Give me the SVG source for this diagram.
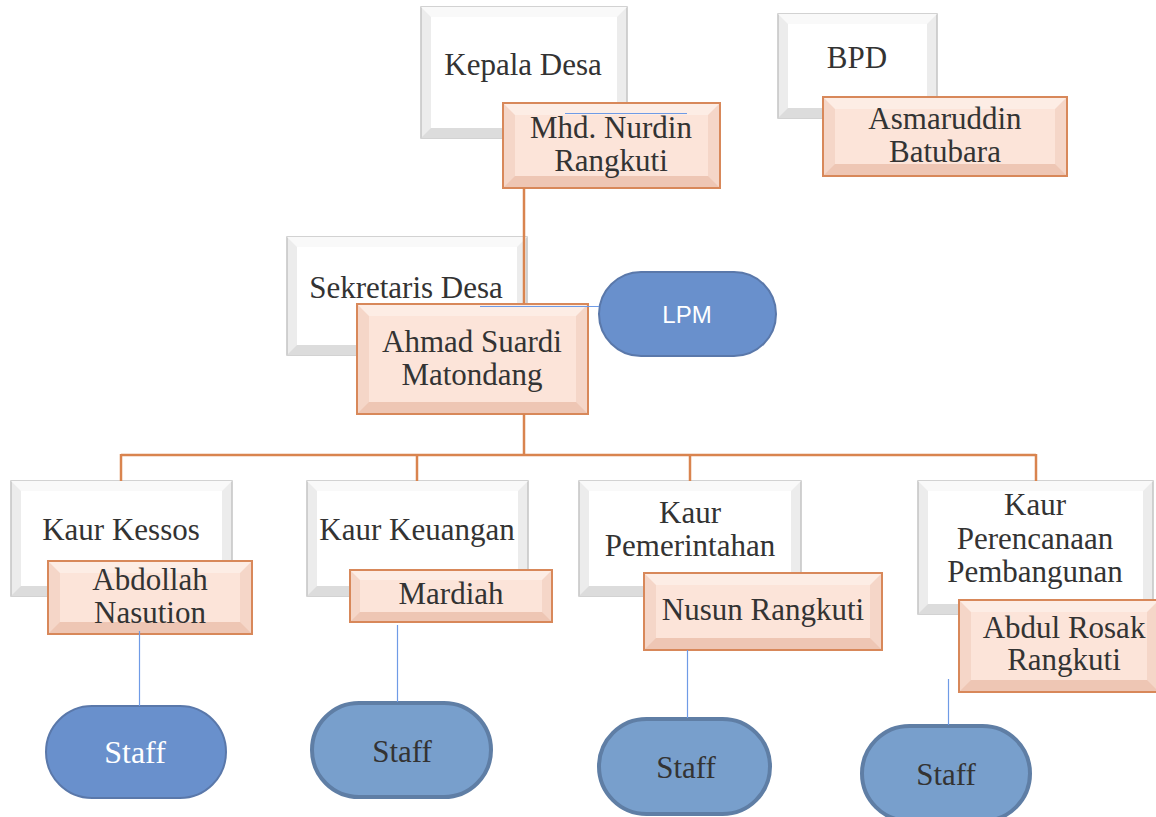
<svg xmlns="http://www.w3.org/2000/svg" width="1156" height="817" viewBox="0 0 1156 817">
<style>
.wo{fill:#ececec;stroke:#c4c4c4;stroke-width:1.5}
.wt{fill:#f9f9f9}
.wb{fill:#dcdcdc}
.wi{fill:#ffffff}
.oo{fill:#f5d6c8;stroke:#d8885a;stroke-width:2}
.ot{fill:#fdede5}
.ob{fill:#eec6b4}
.oi{fill:#fce4d9}
.t{font-family:"Liberation Serif","Times New Roman",serif;font-size:31px;fill:#333333;text-anchor:middle}
.tw{font-family:"Liberation Serif","Times New Roman",serif;font-size:32px;fill:#ffffff;text-anchor:middle}
.sa{fill:#6990cc;stroke:#5a78aa;stroke-width:2}
.sb{fill:#789fcc;stroke:#5f7ea5;stroke-width:4}
.oc{stroke:#d9844f;stroke-width:2.5;fill:none}
.bc{stroke:#6f9be6;stroke-width:1.2;fill:none}
</style>
<rect width="1156" height="817" fill="#ffffff"/>

<g id="kepala">
<rect class="wo" x="421" y="7" width="206" height="131"/>
<polygon class="wt" points="421,7 627,7 617,17 431,17"/>
<polygon class="wb" points="421,138 627,138 617,128 431,128"/>
<rect class="wi" x="431" y="17" width="186" height="111"/>
<text class="t" x="523" y="75">Kepala Desa</text>
</g>
<g id="mhd">
<rect class="oo" x="503" y="103" width="217" height="85"/>
<polygon class="ot" points="504,104 719,104 708,115 515,115"/>
<polygon class="ob" points="504,187 719,187 708,176 515,176"/>
<rect class="oi" x="515" y="115" width="193" height="61"/>
<text class="t" x="611" y="138">Mhd. Nurdin</text>
<text class="t" x="611" y="171">Rangkuti</text>
</g>
<g id="bpd">
<rect class="wo" x="778" y="14" width="159" height="104"/>
<polygon class="wt" points="778,14 937,14 927,24 788,24"/>
<polygon class="wb" points="778,118 937,118 927,108 788,108"/>
<rect class="wi" x="788" y="24" width="139" height="84"/>
<text class="t" x="857" y="68">BPD</text>
</g>
<g id="asmaruddin">
<rect class="oo" x="823" y="97" width="244" height="79"/>
<polygon class="ot" points="824,98 1066,98 1055,109 835,109"/>
<polygon class="ob" points="824,175 1066,175 1055,164 835,164"/>
<rect class="oi" x="835" y="109" width="220" height="55"/>
<text class="t" x="945" y="129">Asmaruddin</text>
<text class="t" x="945" y="162">Batubara</text>
</g>
<g id="sekretaris">
<rect class="wo" x="287" y="237" width="240" height="118"/>
<polygon class="wt" points="287,237 527,237 517,247 297,247"/>
<polygon class="wb" points="287,355 527,355 517,345 297,345"/>
<rect class="wi" x="297" y="247" width="220" height="98"/>
<text class="t" x="406" y="298">Sekretaris Desa</text>
</g>
<g id="lpm">
<rect class="sa" x="599" y="272" width="177" height="84" rx="42" ry="42"/>
<text x="687" y="323" font-family="Liberation Sans, Arial, sans-serif" font-size="24" fill="#ffffff" text-anchor="middle">LPM</text>
</g>
<g id="ahmad">
<rect class="oo" x="357" y="304" width="231" height="110"/>
<polygon class="ot" points="358,305 587,305 576,316 369,316"/>
<polygon class="ob" points="358,413 587,413 576,402 369,402"/>
<rect class="oi" x="369" y="316" width="207" height="86"/>
<text class="t" x="472" y="352">Ahmad Suardi</text>
<text class="t" x="472" y="385">Matondang</text>
</g>

<g id="kessos">
<rect class="wo" x="11" y="481" width="221" height="115"/>
<polygon class="wt" points="11,481 232,481 222,491 21,491"/>
<polygon class="wb" points="11,596 232,596 222,586 21,586"/>
<rect class="wi" x="21" y="491" width="201" height="95"/>
<text class="t" x="121" y="540">Kaur Kessos</text>
</g>
<g id="abdollah">
<rect class="oo" x="48" y="561" width="204" height="73"/>
<polygon class="ot" points="49,562 251,562 240,573 60,573"/>
<polygon class="ob" points="49,633 251,633 240,622 60,622"/>
<rect class="oi" x="60" y="573" width="180" height="49"/>
<text class="t" x="150" y="590">Abdollah</text>
<text class="t" x="150" y="623">Nasution</text>
</g>
<g id="keuangan">
<rect class="wo" x="307" y="481" width="221" height="115"/>
<polygon class="wt" points="307,481 528,481 518,491 317,491"/>
<polygon class="wb" points="307,596 528,596 518,586 317,586"/>
<rect class="wi" x="317" y="491" width="201" height="95"/>
<text class="t" x="417" y="540">Kaur Keuangan</text>
</g>
<g id="mardiah">
<rect class="oo" x="350" y="570" width="202" height="52"/>
<polygon class="ot" points="351,571 551,571 542,580 360,580"/>
<polygon class="ob" points="351,621 551,621 542,612 360,612"/>
<rect class="oi" x="360" y="580" width="182" height="32"/>
<text class="t" x="451" y="604">Mardiah</text>
</g>
<g id="pemerintahan">
<rect class="wo" x="579" y="481" width="222" height="115"/>
<polygon class="wt" points="579,481 801,481 791,491 589,491"/>
<polygon class="wb" points="579,596 801,596 791,586 589,586"/>
<rect class="wi" x="589" y="491" width="202" height="95"/>
<text class="t" x="690" y="523">Kaur</text>
<text class="t" x="690" y="556">Pemerintahan</text>
</g>
<g id="nusun">
<rect class="oo" x="644" y="573" width="238" height="77"/>
<polygon class="ot" points="645,574 881,574 870,585 656,585"/>
<polygon class="ob" points="645,649 881,649 870,638 656,638"/>
<rect class="oi" x="656" y="585" width="214" height="53"/>
<text class="t" x="763" y="620">Nusun Rangkuti</text>
</g>
<g id="perencanaan">
<rect class="wo" x="918" y="481" width="235" height="133"/>
<polygon class="wt" points="918,481 1153,481 1143,491 928,491"/>
<polygon class="wb" points="918,614 1153,614 1143,604 928,604"/>
<rect class="wi" x="928" y="491" width="215" height="113"/>
<text class="t" x="1035" y="515">Kaur</text>
<text class="t" x="1035" y="549">Perencanaan</text>
<text class="t" x="1035" y="582">Pembangunan</text>
</g>
<g id="abdul">
<rect class="oo" x="959" y="600" width="200" height="92"/>
<polygon class="ot" points="960,601 1158,601 1147,612 971,612"/>
<polygon class="ob" points="960,691 1158,691 1147,680 971,680"/>
<rect class="oi" x="971" y="612" width="176" height="68"/>
<text class="t" x="1064" y="638">Abdul Rosak</text>
<text class="t" x="1064" y="670">Rangkuti</text>
</g>

<g id="staff1">
<rect class="sa" x="46" y="706" width="180" height="92" rx="46" ry="46"/>
<text class="tw" x="135" y="763">Staff</text>
</g>
<g id="staff2">
<rect class="sb" x="312" y="703" width="179" height="94" rx="47" ry="47"/>
<text class="t" x="402" y="762">Staff</text>
</g>
<g id="staff3">
<rect class="sb" x="599" y="719" width="171" height="95" rx="47.5" ry="47.5"/>
<text class="t" x="686" y="778">Staff</text>
</g>
<g id="staff4">
<rect class="sb" x="862" y="726" width="168" height="95" rx="47.5" ry="47.5"/>
<text class="t" x="946" y="785">Staff</text>
</g>

<g id="connectors">
<line class="oc" x1="524" y1="188" x2="524" y2="304"/>
<line class="oc" x1="524" y1="414" x2="524" y2="455"/>
<line class="oc" x1="121" y1="455" x2="1036" y2="455"/>
<line class="oc" x1="121" y1="454" x2="121" y2="481"/>
<line class="oc" x1="417" y1="454" x2="417" y2="481"/>
<line class="oc" x1="690" y1="454" x2="690" y2="481"/>
<line class="oc" x1="1036" y1="454" x2="1036" y2="481"/>
<line class="bc" x1="565" y1="113.5" x2="687" y2="113.5"/>
<line class="bc" x1="480" y1="306.5" x2="599" y2="306.5"/>
<line class="bc" x1="139.5" y1="631" x2="139.5" y2="706"/>
<line class="bc" x1="397.5" y1="625" x2="397.5" y2="702"/>
<line class="bc" x1="687.5" y1="650" x2="687.5" y2="718"/>
<line class="bc" x1="948.5" y1="679" x2="948.5" y2="725"/>
</g>
</svg>
